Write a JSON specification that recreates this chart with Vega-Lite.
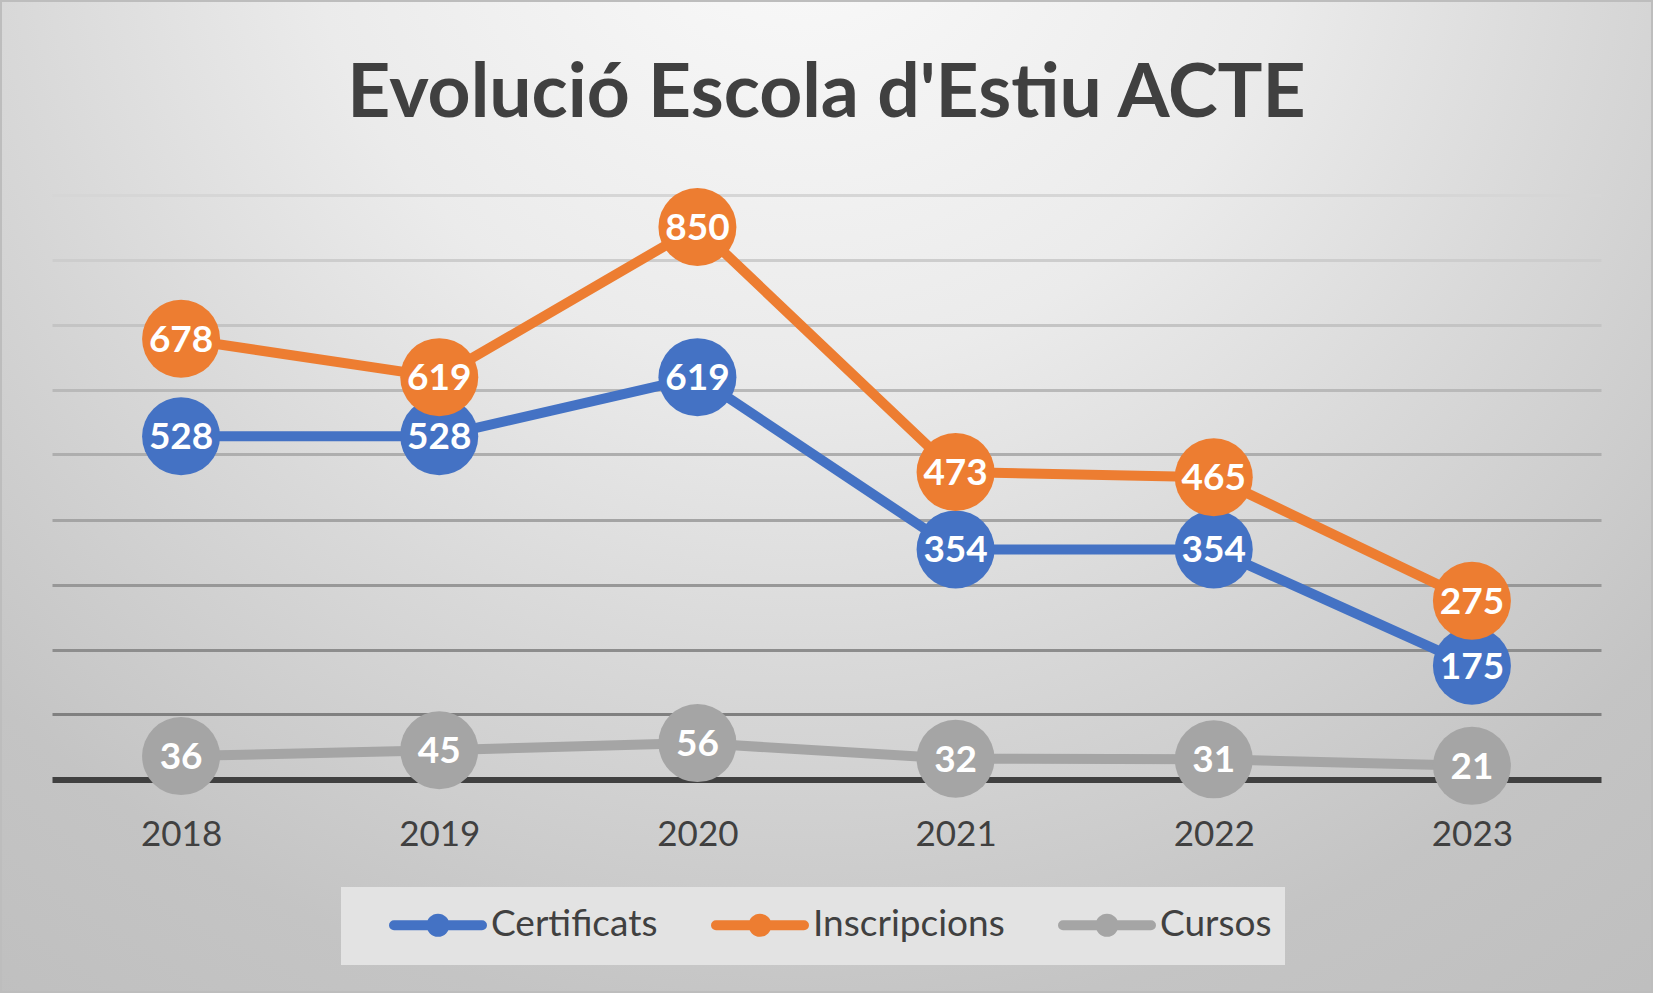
{
  "$schema": "https://vega.github.io/schema/vega-lite/v6.json",
  "width": 1653,
  "height": 993,
  "autosize": {"type": "none"},
  "padding": 0,
  "background": "#d8d8d8",
  "title": {
    "text": "Evolució Escola d'Estiu ACTE",
    "font": "Lato",
    "fontSize": 75,
    "fontWeight": "bold",
    "color": "#404040",
    "anchor": "middle",
    "baseline": "alphabetic",
    "offset": -192
  },
  "config": {
    "view": {
      "fill": {
        "gradient": "radial",
        "x1": 0.484, "y1": 0.12, "r1": 0,
        "x2": 0.484, "y2": 0.12, "r2": 1,
        "stops": [
          {"offset": 0, "color": "#fbfbfb"},
          {"offset": 0.3, "color": "#ebebeb"},
          {"offset": 0.48, "color": "#d9d9d9"},
          {"offset": 0.7, "color": "#c4c4c4"},
          {"offset": 1, "color": "#bababa"}
        ]
      },
      "stroke": "#bdbdbd",
      "strokeWidth": 4
    }
  },
  "data": {
    "values": [
      {"year": "2018", "serie": "Certificats", "value": 528},
      {"year": "2019", "serie": "Certificats", "value": 528},
      {"year": "2020", "serie": "Certificats", "value": 619},
      {"year": "2021", "serie": "Certificats", "value": 354},
      {"year": "2022", "serie": "Certificats", "value": 354},
      {"year": "2023", "serie": "Certificats", "value": 175},
      {"year": "2018", "serie": "Inscripcions", "value": 678},
      {"year": "2019", "serie": "Inscripcions", "value": 619},
      {"year": "2020", "serie": "Inscripcions", "value": 850},
      {"year": "2021", "serie": "Inscripcions", "value": 473},
      {"year": "2022", "serie": "Inscripcions", "value": 465},
      {"year": "2023", "serie": "Inscripcions", "value": 275},
      {"year": "2018", "serie": "Cursos", "value": 36},
      {"year": "2019", "serie": "Cursos", "value": 45},
      {"year": "2020", "serie": "Cursos", "value": 56},
      {"year": "2021", "serie": "Cursos", "value": 32},
      {"year": "2022", "serie": "Cursos", "value": 31},
      {"year": "2023", "serie": "Cursos", "value": 21}
    ]
  },
  "encoding": {
    "x": {
      "field": "year",
      "type": "nominal",
      "sort": null,
      "scale": {"type": "point", "range": [52, 1601], "padding": 0.5},
      "axis": {
        "orient": "bottom",
        "offset": -213.5,
        "title": null,
        "grid": false,
        "domain": true,
        "domainColor": "#404040",
        "domainWidth": 6,
        "ticks": false,
        "tickSize": 0,
        "labelAngle": 0,
        "labelFont": "Lato",
        "labelFontSize": 35,
        "labelColor": "#404040",
        "labelPadding": 38
      }
    },
    "y": {
      "field": "value",
      "type": "quantitative",
      "scale": {"domain": [0, 900], "range": [779.5, 194.5], "nice": false, "zero": true},
      "axis": {
        "values": [100, 200, 300, 400, 500, 600, 700, 800, 900],
        "title": null,
        "domain": false,
        "ticks": false,
        "labels": false,
        "grid": true,
        "gridWidth": 3,
        "gridColor": {
          "condition": [
            {"test": "datum.value === 900", "value": "#d6d6d6"},
            {"test": "datum.value === 800", "value": "#cdcdcd"},
            {"test": "datum.value === 700", "value": "#c4c4c4"},
            {"test": "datum.value === 600", "value": "#b9b9b9"},
            {"test": "datum.value === 500", "value": "#aeaeae"},
            {"test": "datum.value === 400", "value": "#a4a4a4"},
            {"test": "datum.value === 300", "value": "#989898"},
            {"test": "datum.value === 200", "value": "#8d8d8d"}
          ],
          "value": "#808080"
        }
      }
    },
    "color": {
      "field": "serie",
      "type": "nominal",
      "sort": ["Certificats", "Inscripcions", "Cursos"],
      "scale": {
        "domain": ["Certificats", "Inscripcions", "Cursos"],
        "range": ["#4472c4", "#ed7d31", "#a5a5a5"]
      },
      "legend": {
        "orient": "none",
        "legendX": 341,
        "legendY": 887,
        "direction": "horizontal",
        "title": null,
        "fillColor": "#e3e3e3",
        "padding": 13,
        "symbolType": "M0.75,0L5.15,0M2.625,0A0.325,0.325 0 1,0 3.275,0A0.325,0.325 0 1,0 2.625,0Z",
        "symbolSize": 1600,
        "symbolStrokeWidth": 10,
        "symbolOpacity": 1,
        "labelFont": "Lato",
        "labelFontSize": 37,
        "labelColor": "#404040",
        "labelOffset": 87,
        "labelLimit": 400,
        "labelBaseline": "middle",
        "labelExpr": "datum.label === 'Cursos' ? 'Cursos\u00a0\u00a0\u00a0\u00a0' : datum.label",
        "columnPadding": 18,
        "encode": {
          "symbols": {
            "update": {
              "fill": {"scale": "color", "field": "value"},
              "stroke": {"scale": "color", "field": "value"},
              "strokeCap": {"value": "round"},
              "opacity": {"value": 1}
            }
          }
        }
      }
    }
  },
  "layer": [
    {"mark": {"type": "line", "strokeWidth": 10, "strokeJoin": "round"}},
    {"mark": {"type": "circle", "size": 6084, "opacity": 1}},
    {
      "mark": {"type": "text", "font": "Lato", "fontWeight": "bold", "fontSize": 37, "baseline": "middle", "align": "center", "dy": 2},
      "encoding": {"text": {"field": "value", "type": "quantitative"}, "color": {"value": "white"}}
    }
  ]
}
